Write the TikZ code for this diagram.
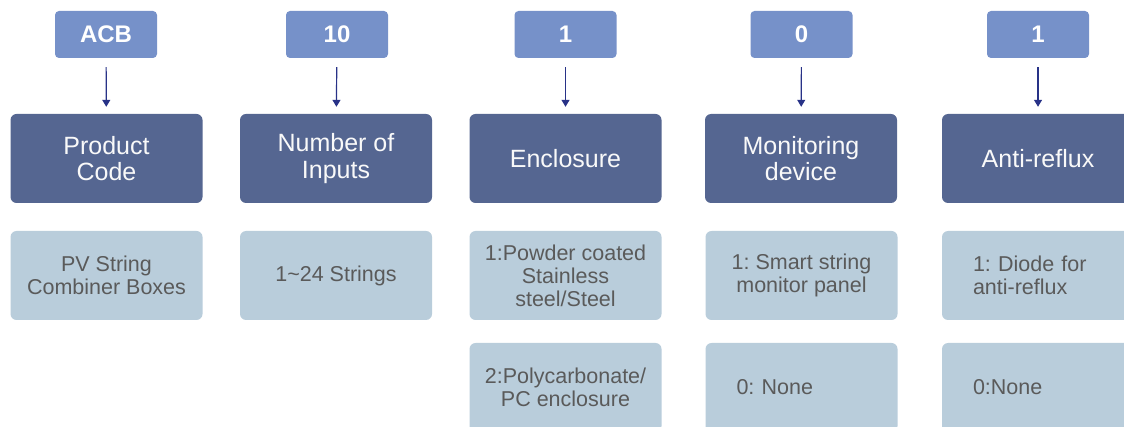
\documentclass[tikz,border=0pt]{standalone}
\usepackage{fontspec}
\setmainfont{Liberation Sans}
\usetikzlibrary{arrows.meta}
\definecolor{codeblue}{RGB}{118,145,201}
\definecolor{darkbox}{RGB}{85,102,145}
\definecolor{lightbox}{RGB}{185,205,219}
\definecolor{graytext}{RGB}{90,90,90}
\definecolor{arrowcol}{RGB}{40,50,135}
\frenchspacing
\begin{document}
\begin{tikzpicture}[x=1pt,y=-1pt,
  codebox/.style={fill=codeblue, rounded corners=4pt, minimum width=102pt, minimum height=47pt, inner sep=0pt, text=white, font=\fontsize{24}{26}\selectfont\bfseries},
  headbox/.style={fill=darkbox, rounded corners=6pt, minimum width=192pt, minimum height=89pt, inner sep=0pt, text=white!95!gray, align=center, font=\fontsize{25}{26.5}\selectfont},
  optbox/.style={fill=lightbox, rounded corners=6pt, minimum width=192pt, minimum height=89pt, inner sep=0pt, text=graytext, align=center, font=\fontsize{21.5}{23}\selectfont},
  optleft/.style={optbox, align=left, text width=130pt},
  link/.style={-{Triangle[width=8pt,length=7pt]}, line width=1.2pt, draw=arrowcol, shorten <=9pt, shorten >=7pt}]
\useasboundingbox (0,0) rectangle (1124,427);
\clip (0,0) rectangle (1124,427);
% code boxes
\node[codebox] (c1) at (106,34.5) {ACB};
\node[codebox] (c2) at (337,34.5) {10};
\node[codebox] (c3) at (565.5,34.5) {1};
\node[codebox] (c4) at (801.5,34.5) {0};
\node[codebox] (c5) at (1038,34.5) {1};
% header boxes
\node[headbox] (h1) at (106.5,158.5) {Product\\Code};
\node[headbox] (h2) at (336,158.5) {Number of\\Inputs};
\node[headbox] (h3) at (565.5,158.5) {Enclosure};
\node[headbox] (h4) at (801,158.5) {Monitoring\\device};
\node[headbox] (h5) at (1038,158.5) {Anti-reflux};
% arrows
\draw[link] (c1) -- (h1);
\draw[link] (c2) -- (h2);
\draw[link] (c3) -- (h3);
\draw[link] (c4) -- (h4);
\draw[link] (c5) -- (h5);
% option boxes row 1
\node[optbox] (o1) at (106.5,275.5) {PV String\\Combiner Boxes};
\node[optbox] (o2) at (336,275.5) {1\char`\~24 Strings};
\node[optbox] (o3) at (565.5,275.5) {1:Powder coated\\Stainless\\steel/Steel};
\node[optbox] (o4) at (801.5,275.5) {1: Smart string\\monitor panel};
\node[optleft] (o5) at (1038,275.5) {1: Diode for\\anti-reflux};
% option boxes row 2
\node[optbox] (p3) at (565.5,387.5) {2:Polycarbonate/\\PC enclosure};
\node[optleft] (p4) at (801.5,387.5) {0: None};
\node[optleft] (p5) at (1038,387.5) {0:None};
\end{tikzpicture}
\end{document}
